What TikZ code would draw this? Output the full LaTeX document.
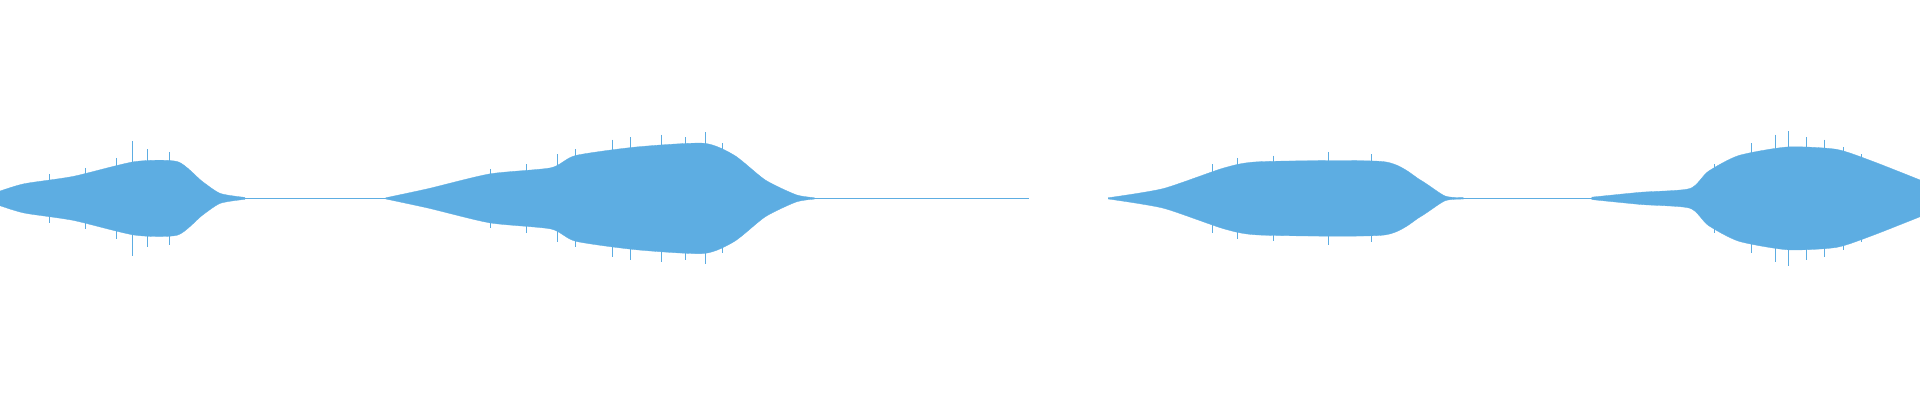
\documentclass[tikz,border=0pt]{standalone}
\definecolor{wave}{HTML}{5DADE2}
\begin{document}
\begin{tikzpicture}[x=1.2245bp,y=-1.2245bp,env/.style={fill=wave,draw=wave,line width=0.3pt},base/.style={draw=wave,line width=0.6pt}]
\useasboundingbox (0,0) rectangle (1568,327);
\def\c{162}
\fill[env] plot[smooth,tension=0.4] coordinates {(0,\c-6)(20,\c-12)(60,\c-18)(110,\c-30)(145,\c-30)(165,\c-14)(180,\c-4)(200,\c-0.8)}
 -- plot[smooth,tension=0.4] coordinates {(200,\c+0.8)(180,\c+4)(165,\c+14)(145,\c+30)(110,\c+30)(60,\c+18)(20,\c+12)(0,\c+6)} -- cycle;
\fill[env] plot[smooth,tension=0.4] coordinates {(315,\c-0.5)(350,\c-8)(400,\c-20)(450,\c-25)(470,\c-35)(520,\c-42)(575,\c-45)(600,\c-35)(625,\c-15)(650,\c-3)(665,\c-0.6)}
 -- plot[smooth,tension=0.4] coordinates {(665,\c+0.6)(650,\c+3)(625,\c+15)(600,\c+35)(575,\c+45)(520,\c+42)(470,\c+35)(450,\c+25)(400,\c+20)(350,\c+8)(315,\c+0.5)} -- cycle;
\fill[env] plot[smooth,tension=0.4] coordinates {(905,\c-0.5)(950,\c-8)(1000,\c-25)(1030,\c-30)(1130,\c-30)(1160,\c-15)(1180,\c-2)(1195,\c-0.6)}
 -- plot[smooth,tension=0.4] coordinates {(1195,\c+0.6)(1180,\c+2)(1160,\c+15)(1130,\c+30)(1030,\c+30)(1000,\c+25)(950,\c+8)(905,\c+0.5)} -- cycle;
\fill[env] plot[smooth,tension=0.4] coordinates {(1300,\c-1)(1340,\c-5)(1380,\c-8)(1395,\c-22)(1420,\c-35)(1460,\c-42)(1500,\c-40)(1530,\c-30)(1568,\c-15)}
 -- plot[smooth,tension=0.4] coordinates {(1568,\c+15)(1530,\c+30)(1500,\c+40)(1460,\c+42)(1420,\c+35)(1395,\c+22)(1380,\c+8)(1340,\c+5)(1300,\c+1)} -- cycle;
\draw[base] (195,\c) -- (320,\c) (660,\c) -- (840,\c) (1190,\c) -- (1305,\c);
\foreach \x/\h in {40/20,70/25,95/33,108/47,120/40,138/38,400/24,430/28,455/36,470/40,500/48,515/50,540/52,560/50,576/54,590/45,990/28,1010/33,1040/35,1085/38,1120/36,1400/28,1430/45,1450/52,1460/55,1475/50,1490/48,1505/42,1520/36} {
  \draw[wave,line width=0.5pt] (\x,\c-\h) -- (\x,\c+\h);
}
\end{tikzpicture}
\end{document}
